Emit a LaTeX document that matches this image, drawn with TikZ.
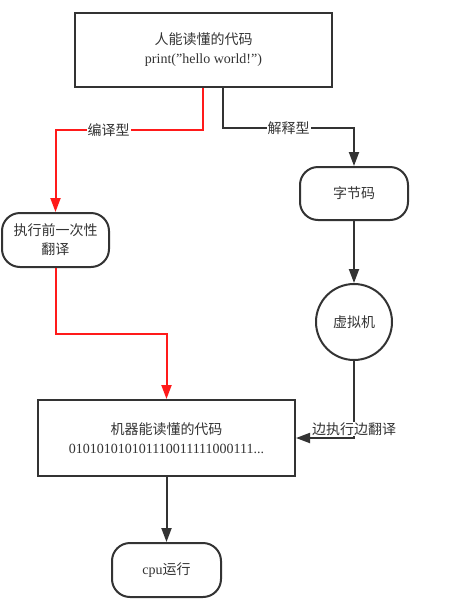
\documentclass[tikz,border=0pt]{standalone}
\usepackage{fontspec}
\setmainfont{Liberation Serif}
\newfontfamily\cjk{Noto Sans CJK SC}
\usetikzlibrary{arrows.meta}
\definecolor{ink}{HTML}{333333}
\definecolor{redline}{HTML}{FF1A1A}
\begin{document}
\begin{tikzpicture}[x=1pt,y=-1pt,
  every node/.style={text=ink,font=\fontsize{14}{19}\selectfont,align=center},
  sq/.style={draw=ink,line width=2pt,inner sep=0pt},
  rnd/.style={draw=ink,line width=2pt,inner sep=0pt,rounded corners=18pt},
  circ/.style={draw=ink,line width=2pt,circle,inner sep=0pt,minimum size=76pt},
  blk/.style={draw=ink,line width=2pt,-{Triangle[width=10pt,length=14pt]}},
  rd/.style={draw=redline,line width=2pt,-{Triangle[width=10pt,length=14pt]}},
  lab/.style={fill=white,inner sep=1pt}]
\useasboundingbox (0,0) rectangle (455,603);
\node[sq,minimum width=257pt,minimum height=74pt] (top) at (203.5,50) {{\cjk 人能读懂的代码}\\print(\symbol{34}hello world!\symbol{34})};
\node[rnd,minimum width=107pt,minimum height=54pt] (exec) at (55.5,240) {{\cjk 执行前一次性}\\{\cjk 翻译}};
\node[rnd,minimum width=108pt,minimum height=53pt] (bc) at (354,193.5) {\cjk 字节码};
\node[circ] (vm) at (354,322) {\cjk 虚拟机};
\node[sq,minimum width=257pt,minimum height=76pt] (mach) at (166.5,438) {{\cjk 机器能读懂的代码}\\010101010101110011111000111...};
\node[rnd,minimum width=109pt,minimum height=54pt] (cpu) at (166.5,570) {cpu{\cjk 运行}};
\draw[rd] ([xshift=-0.5pt]top.south) -- ++(0,42) -| node[lab,pos=0.32]{\cjk 编译型} (exec.north);
\draw[blk] ([xshift=19.5pt]top.south) -- ++(0,40) -| node[lab,pos=0.25]{\cjk 解释型} (bc.north);
\draw[blk] (bc.south) -- (vm.north);
\draw[blk] (vm.south) |- node[lab,pos=0.5,yshift=9pt]{\cjk 边执行边翻译} (mach.east);
\draw[rd] (exec.south) -- ++(0,66) -| (mach.north);
\draw[blk] (mach.south) -- (cpu.north);
\end{tikzpicture}
\end{document}
